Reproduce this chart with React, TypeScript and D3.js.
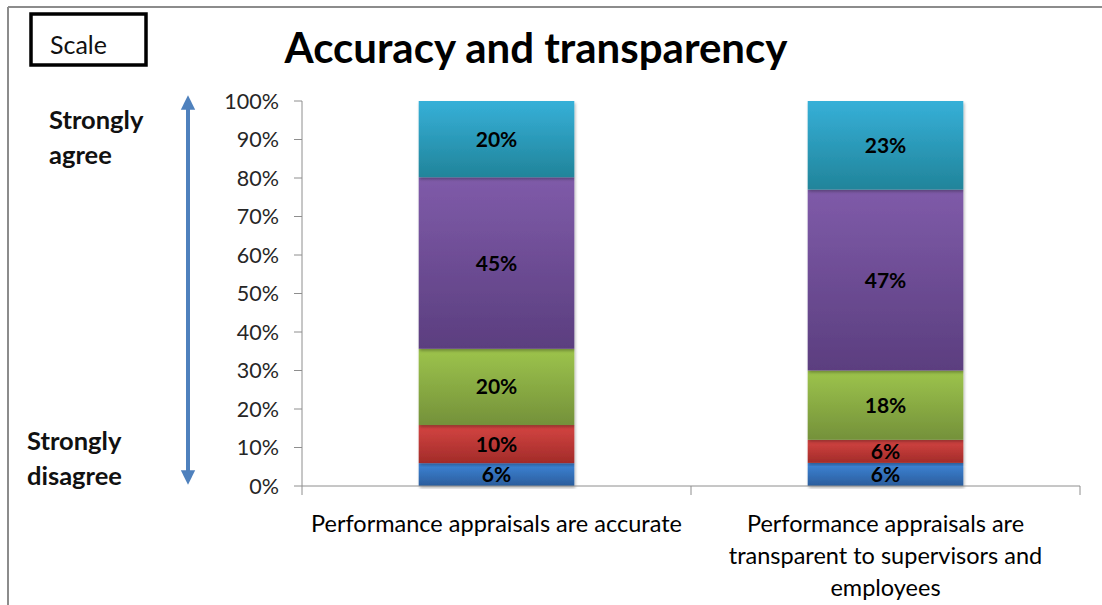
import React from "react";
import * as d3 from "d3";

// categories (x axis) and their wrapped tick labels
const categories = ["accurate", "transparent"];
const categoryLines = [
  ["Performance appraisals are accurate"],
  ["Performance appraisals are", "transparent to supervisors and", "employees"],
];

// stacked levels, bottom to top
const levels = ["stronglyDisagree", "disagree", "neutral", "agree", "stronglyAgree"];
const stronglyDisagree = [6, 6];
const disagree = [10, 6];
const neutral = [20, 18];
const agree = [45, 47];
const stronglyAgree = [20, 23];

const yTickValues = [0, 0.1, 0.2, 0.3, 0.4, 0.5, 0.6, 0.7, 0.8, 0.9, 1];

const gradients: Record<string, [string, string]> = {
  stronglyDisagree: ["#3d85d8", "#2b5d9c"],
  disagree: ["#d44542", "#a22b29"],
  neutral: ["#9dc44c", "#74913a"],
  agree: ["#7f5ba9", "#5b3e7f"],
  stronglyAgree: ["#36b0d8", "#21849a"],
};

const W = 1102;
const H = 605;
const margin = { top: 101, right: 22, bottom: 119, left: 302 };
const font = "Lato, 'Open Sans', sans-serif";

export default function App() {
  const rows = categories.map((c, i) => ({
    category: c,
    stronglyDisagree: stronglyDisagree[i],
    disagree: disagree[i],
    neutral: neutral[i],
    agree: agree[i],
    stronglyAgree: stronglyAgree[i],
  }));

  const stacked = d3
    .stack<any>()
    .keys(levels)
    .offset(d3.stackOffsetExpand)(rows);

  const x = d3
    .scaleBand()
    .domain(categories)
    .range([margin.left, W - margin.right])
    .paddingInner(0.6)
    .paddingOuter(0.3);

  const y = d3
    .scaleLinear()
    .domain([0, 1])
    .range([H - margin.bottom, margin.top]);

  const step = x.step();
  const x0 = margin.left;
  const x1 = W - margin.right;
  const yBase = y(0);
  const fmt = d3.format(".0%");
  const cx = (i: number) => (x(categories[i]) as number) + x.bandwidth() / 2;

  return (
    <svg
      width={W}
      height={H}
      style={{ position: "absolute", left: 0, top: 0, background: "#fff" }}
      fontFamily={font}
    >
      <defs>
        {levels.map((k) => (
          <linearGradient key={k} id={`g-${k}`} x1="0" y1="0" x2="0" y2="1">
            <stop offset="0%" stopColor={gradients[k][0]} />
            <stop offset="100%" stopColor={gradients[k][1]} />
          </linearGradient>
        ))}
        <filter id="shadow" x="-10%" y="-10%" width="120%" height="120%">
          <feDropShadow dx="1" dy="2" stdDeviation="1.5" floodColor="#000" floodOpacity="0.3" />
        </filter>
        <marker id="arrowHead" viewBox="0 0 10 10" refX="4" refY="5" markerWidth="3.6" markerHeight="4" orient="auto-start-reverse">
          <path d="M0,0 L10,5 L0,10 z" fill="#4f81bd" />
        </marker>
      </defs>

      {/* outer frame */}
      <line x1={8} y1={7} x2={W} y2={7} stroke="#8c8c8c" strokeWidth={2} />
      <line x1={8} y1={7} x2={8} y2={H} stroke="#8c8c8c" strokeWidth={2} />

      {/* scale box */}
      <rect x={31} y={14} width={115} height={51} fill="none" stroke="#000" strokeWidth={3.5} />
      <text x={50} y={54} fontSize={25} fill="#111">Scale</text>

      {/* title */}
      <text x={536} y={63} textAnchor="middle" fontSize={42} fontWeight="bold" fill="#000">
        Accuracy and transparency
      </text>

      {/* scale arrow */}
      <line
        x1={188}
        y1={104}
        x2={188}
        y2={476}
        stroke="#4f81bd"
        strokeWidth={4}
        markerStart="url(#arrowHead)"
        markerEnd="url(#arrowHead)"
      />
      <g fontSize={25.5} fontWeight="bold" fill="#111">
        <text x={49} y={129}>Strongly</text>
        <text x={49} y={164}>agree</text>
        <text x={27} y={450}>Strongly</text>
        <text x={27} y={485}>disagree</text>
      </g>

      {/* y axis */}
      <line x1={x0} y1={y(1)} x2={x0} y2={yBase} stroke="#8e8e8e" />
      {yTickValues.map((t) => (
        <g key={t}>
          <line x1={x0 - 8} y1={y(t)} x2={x0} y2={y(t)} stroke="#8e8e8e" />
          <text x={279} y={y(t)} dy="0.36em" textAnchor="end" fontSize={21.5} fill="#262626">
            {fmt(t)}
          </text>
        </g>
      ))}

      {/* bars */}
      {stacked.map((s) => (
        <g key={s.key}>
          {s.map((d, i) => (
            <rect
              key={i}
              x={x(categories[i])}
              y={y(d[1])}
              width={x.bandwidth()}
              height={y(d[0]) - y(d[1])}
              fill={`url(#g-${s.key})`}
              filter="url(#shadow)"
            />
          ))}
        </g>
      ))}
      {stacked.map((s) =>
        s.map((d, i) => (
          <text
            key={`${s.key}-${i}`}
            x={cx(i)}
            y={(y(d[0]) + y(d[1])) / 2}
            dy="0.36em"
            textAnchor="middle"
            fontSize={21}
            fontWeight="bold"
            fill="#000"
          >
            {`${(d.data as any)[s.key]}%`}
          </text>
        ))
      )}

      {/* x axis */}
      <line x1={x0} y1={yBase} x2={x1} y2={yBase} stroke="#8e8e8e" />
      {d3.range(categories.length + 1).map((i) => (
        <line key={i} x1={x0 + i * step} y1={yBase} x2={x0 + i * step} y2={yBase + 9} stroke="#8e8e8e" />
      ))}
      {categoryLines.map((lines, i) => (
        <text key={i} x={cx(i)} y={532} textAnchor="middle" fontSize={23.5} fill="#000">
          {lines.map((l, j) => (
            <tspan key={j} x={cx(i)} dy={j === 0 ? 0 : 32}>
              {l}
            </tspan>
          ))}
        </text>
      ))}
    </svg>
  );
}
